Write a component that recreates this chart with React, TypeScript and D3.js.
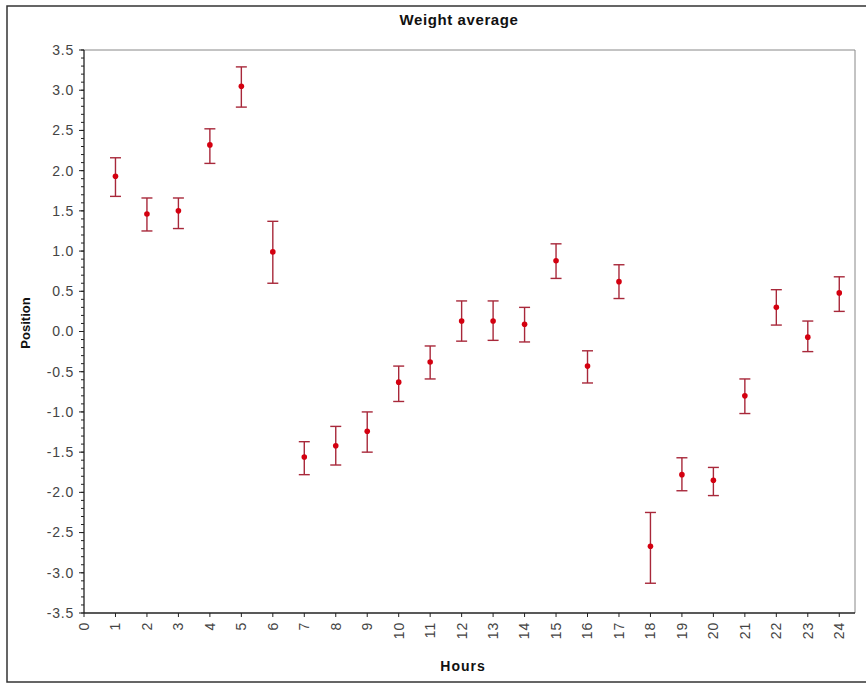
import React from "react";
import * as d3 from "d3";

const WIDTH = 866;
const HEIGHT = 685;
const MARGIN = { top: 50, right: 11, bottom: 72, left: 84 };

const hours = [1, 2, 3, 4, 5, 6, 7, 8, 9, 10, 11, 12, 13, 14, 15, 16, 17, 18, 19, 20, 21, 22, 23, 24];
const means = [1.93, 1.46, 1.5, 2.32, 3.05, 0.99, -1.56, -1.42, -1.24, -0.63, -0.38, 0.13, 0.13, 0.09, 0.88, -0.43, 0.62, -2.67, -1.78, -1.85, -0.8, 0.3, -0.07, 0.48];
const upper = [2.16, 1.66, 1.66, 2.52, 3.29, 1.37, -1.37, -1.18, -1.0, -0.43, -0.18, 0.38, 0.38, 0.3, 1.09, -0.24, 0.83, -2.25, -1.57, -1.69, -0.59, 0.52, 0.13, 0.68];
const lower = [1.68, 1.25, 1.28, 2.09, 2.79, 0.6, -1.78, -1.66, -1.5, -0.87, -0.59, -0.12, -0.11, -0.13, 0.66, -0.64, 0.41, -3.13, -1.98, -2.04, -1.02, 0.08, -0.25, 0.25];

const xTicks = d3.range(0, 25);
const yMajor = d3.range(-3.5, 3.51, 0.5);
const yMinor = d3.range(-35, 36).map((v) => v / 10);

const FONT = "'Liberation Sans', Arial, sans-serif";

export default function App() {
  const boundsWidth = WIDTH - MARGIN.left - MARGIN.right;
  const boundsHeight = 563; // plot bottom sits at y = 613

  const xScale = d3.scaleLinear().domain([0, 24.5]).range([0, boundsWidth]);
  const yScale = d3.scaleLinear().domain([-3.5, 3.5]).range([boundsHeight, 0]);

  const points = hours.map((h, i) => ({ h, m: means[i], hi: upper[i], lo: lower[i] }));
  const cap = 5.5;

  return (
    <svg
      width={WIDTH}
      height={HEIGHT}
      style={{ position: "absolute", left: 0, top: 0, background: "#fff" }}
      fontFamily={FONT}
    >
      {/* outer frame */}
      <rect x={7} y={6} width={WIDTH + 10} height={676} fill="none" stroke="#333" strokeWidth={1.5} />

      <text x={459} y={25} textAnchor="middle" fontSize={15} fontWeight="bold" letterSpacing={0.6} fill="#111">
        Weight average
      </text>

      <g transform={`translate(${MARGIN.left},${MARGIN.top})`}>
        {/* top and right frame of the plot */}
        <line x1={0} x2={boundsWidth} y1={0} y2={0} stroke="#888" />
        <line x1={boundsWidth} x2={boundsWidth} y1={0} y2={boundsHeight} stroke="#888" />

        {/* y axis */}
        <line x1={0} x2={0} y1={0} y2={boundsHeight} stroke="#222" strokeWidth={1.3} />
        {yMinor.map((v) => (
          <line key={"mi" + v} x1={-3} x2={0} y1={yScale(v)} y2={yScale(v)} stroke="#222" />
        ))}
        {yMajor.map((v) => (
          <g key={"ma" + v} transform={`translate(0,${yScale(v)})`}>
            <line x1={-5} x2={0} stroke="#222" />
            <text x={-10} dy="0.35em" textAnchor="end" fontSize={14} letterSpacing={0.8} fill="#444">
              {v.toFixed(1)}
            </text>
          </g>
        ))}

        {/* x axis */}
        <line x1={0} x2={boundsWidth} y1={boundsHeight} y2={boundsHeight} stroke="#222" strokeWidth={1.3} />
        {xTicks.map((t) => (
          <g key={"x" + t} transform={`translate(${xScale(t)},${boundsHeight})`}>
            <line y1={0} y2={4} stroke="#222" />
            <text
              transform="translate(0,9) rotate(-90)"
              dy="0.35em"
              textAnchor="end"
              fontSize={14}
              letterSpacing={0.8}
              fill="#444"
            >
              {t}
            </text>
          </g>
        ))}

        {/* error bars */}
        {points.map((d) => {
          const x = xScale(d.h);
          return (
            <g key={"e" + d.h} stroke="#a8283a" strokeWidth={1.4}>
              <line x1={x} x2={x} y1={yScale(d.hi)} y2={yScale(d.lo)} />
              <line x1={x - cap} x2={x + cap} y1={yScale(d.hi)} y2={yScale(d.hi)} />
              <line x1={x - cap} x2={x + cap} y1={yScale(d.lo)} y2={yScale(d.lo)} />
            </g>
          );
        })}
        {points.map((d) => (
          <circle key={"p" + d.h} cx={xScale(d.h)} cy={yScale(d.m)} r={2.8} fill="#d40010" />
        ))}
      </g>

      <text
        transform={`translate(25,323) rotate(-90)`}
        textAnchor="middle"
        dy="0.35em"
        fontSize={13}
        fontWeight="bold"
        fill="#111"
      >
        Position
      </text>
      <text x={463} y={671} textAnchor="middle" fontSize={14} fontWeight="bold" letterSpacing={1} fill="#111">
        Hours
      </text>
    </svg>
  );
}
